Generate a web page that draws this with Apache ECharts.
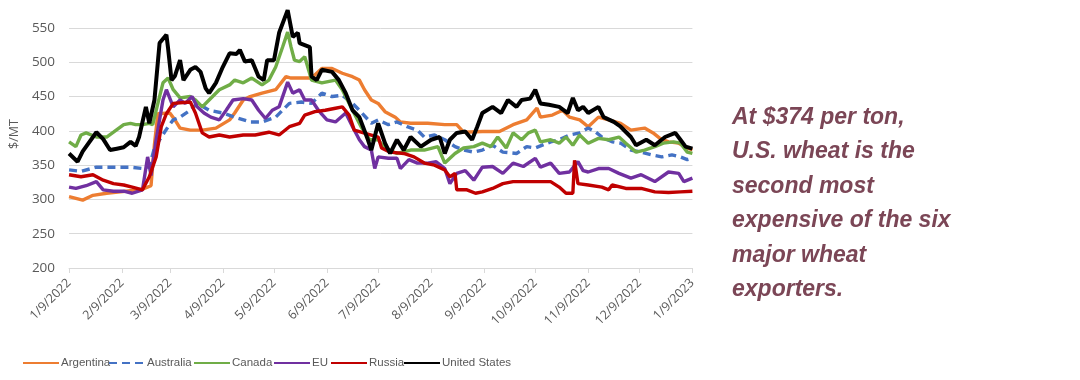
<!DOCTYPE html>
<html>
<head>
<meta charset="utf-8">
<script src="https://cdn.jsdelivr.net/npm/echarts@6/dist/echarts.min.js"></script>
<style>html,body{margin:0;padding:0;background:#fff}#c{width:1080px;height:380px}</style>
</head>
<body>
<div id="c"></div>
<script>
const seriesNames = ['Argentina','Australia','Canada','EU','Russia','United States'];
const yTicks = [200,250,300,350,400,450,500,550];

const argentina = [['1/9/2022',304],['1/17/2022',299],['1/23/2022',306],['1/31/2022',309],['2/8/2022',311],['2/15/2022',313],['2/21/2022',315],['2/26/2022',320],['2/28/2022',380],['3/2/2022',425],['3/9/2022',426],['3/12/2022',416],['3/15/2022',404],['3/21/2022',401],['3/28/2022',401],['4/5/2022',404],['4/13/2022',416],['4/16/2022',426],['4/21/2022',445],['4/25/2022',450],['5/2/2022',455],['5/10/2022',460],['5/16/2022',479],['5/19/2022',477],['5/31/2022',477],['6/6/2022',491],['6/12/2022',491],['6/18/2022',484],['6/24/2022',479],['6/28/2022',474],['7/1/2022',460],['7/5/2022',445],['7/9/2022',440],['7/13/2022',428],['7/19/2022',420],['7/22/2022',413],['7/28/2022',411],['8/7/2022',411],['8/17/2022',409],['8/24/2022',409],['8/28/2022',398],['9/8/2022',399],['9/18/2022',399],['9/26/2022',409],['10/4/2022',416],['10/10/2022',433],['10/12/2022',420],['10/19/2022',423],['10/25/2022',430],['10/29/2022',420],['11/4/2022',416],['11/9/2022',406],['11/15/2022',420],['11/21/2022',416],['11/28/2022',411],['12/4/2022',401],['12/12/2022',404],['12/17/2022',397],['12/21/2022',389],['12/26/2022',384],['1/1/2023',382],['1/6/2023',375],['1/9/2023',372]];

const australia = [['1/9/2022',343],['1/16/2022',341],['1/25/2022',347],['2/4/2022',347],['2/14/2022',347],['2/21/2022',345],['2/25/2022',348],['2/28/2022',375],['3/3/2022',387],['3/8/2022',406],['3/11/2022',416],['3/15/2022',420],['3/21/2022',430],['3/25/2022',440],['4/1/2022',430],['4/9/2022',426],['4/16/2022',420],['4/25/2022',413],['5/2/2022',413],['5/10/2022',420],['5/18/2022',440],['5/25/2022',442],['5/31/2022',440],['6/6/2022',455],['6/12/2022',450],['6/18/2022',452],['6/24/2022',440],['6/28/2022',430],['7/5/2022',411],['7/9/2022',416],['7/15/2022',409],['7/20/2022',413],['7/26/2022',406],['8/1/2022',401],['8/5/2022',391],['8/11/2022',394],['8/17/2022',387],['8/23/2022',377],['8/28/2022',372],['9/3/2022',369],['9/8/2022',372],['9/14/2022',379],['9/20/2022',369],['9/28/2022',367],['10/4/2022',377],['10/9/2022',375],['10/18/2022',384],['10/23/2022',387],['10/29/2022',394],['11/4/2022',397],['11/9/2022',404],['11/13/2022',399],['11/17/2022',391],['11/23/2022',384],['11/28/2022',382],['12/4/2022',372],['12/10/2022',369],['12/16/2022',365],['12/22/2022',362],['12/28/2022',365],['1/2/2023',362],['1/6/2023',358],['1/9/2023',360]];

const canada = [['1/9/2022',384],['1/13/2022',377],['1/16/2022',394],['1/19/2022',397],['1/25/2022',391],['1/31/2022',391],['2/4/2022',398],['2/10/2022',409],['2/14/2022',411],['2/17/2022',409],['2/21/2022',409],['2/25/2022',411],['2/27/2022',409],['3/2/2022',440],['3/5/2022',470],['3/8/2022',477],['3/11/2022',460],['3/15/2022',448],['3/21/2022',450],['3/24/2022',445],['3/28/2022',435],['4/1/2022',445],['4/7/2022',460],['4/13/2022',467],['4/16/2022',474],['4/21/2022',470],['4/26/2022',477],['5/2/2022',467],['5/6/2022',474],['5/10/2022',493],['5/14/2022',522],['5/17/2022',544],['5/19/2022',522],['5/21/2022',503],['5/24/2022',501],['5/27/2022',508],['5/31/2022',474],['6/6/2022',470],['6/14/2022',474],['6/18/2022',460],['6/24/2022',430],['6/29/2022',406],['7/4/2022',387],['7/9/2022',387],['7/13/2022',375],['7/20/2022',367],['7/28/2022',372],['8/5/2022',372],['8/13/2022',377],['8/17/2022',353],['8/23/2022',367],['8/28/2022',375],['9/3/2022',377],['9/8/2022',382],['9/13/2022',377],['9/17/2022',391],['9/22/2022',375],['9/26/2022',397],['10/1/2022',387],['10/5/2022',397],['10/9/2022',401],['10/12/2022',384],['10/18/2022',387],['10/23/2022',382],['10/27/2022',391],['10/31/2022',379],['11/4/2022',394],['11/9/2022',382],['11/15/2022',389],['11/21/2022',387],['11/27/2022',391],['12/1/2022',382],['12/7/2022',369],['12/12/2022',372],['12/18/2022',377],['12/23/2022',382],['12/29/2022',384],['1/2/2023',382],['1/6/2023',369],['1/9/2023',367]];

const eu = [['1/9/2022',318],['1/13/2022',316],['1/19/2022',320],['1/25/2022',326],['1/29/2022',314],['2/4/2022',312],['2/10/2022',312],['2/15/2022',309],['2/21/2022',314],['2/24/2022',362],['2/26/2022',335],['3/1/2022',387],['3/5/2022',445],['3/7/2022',460],['3/11/2022',435],['3/15/2022',445],['3/18/2022',440],['3/22/2022',450],['3/25/2022',435],['3/29/2022',426],['4/2/2022',420],['4/7/2022',416],['4/11/2022',430],['4/15/2022',445],['4/21/2022',447],['4/26/2022',445],['4/30/2022',430],['5/4/2022',418],['5/8/2022',430],['5/12/2022',435],['5/17/2022',471],['5/20/2022',455],['5/24/2022',460],['5/27/2022',445],['5/31/2022',445],['6/4/2022',430],['6/9/2022',416],['6/14/2022',413],['6/20/2022',426],['6/24/2022',406],['6/28/2022',387],['7/1/2022',377],['7/5/2022',372],['7/7/2022',345],['7/9/2022',362],['7/15/2022',360],['7/20/2022',360],['7/22/2022',345],['7/27/2022',358],['8/1/2022',353],['8/7/2022',353],['8/12/2022',355],['8/17/2022',345],['8/20/2022',323],['8/24/2022',338],['8/29/2022',342],['9/3/2022',328],['9/8/2022',347],['9/14/2022',348],['9/20/2022',338],['9/26/2022',353],['10/2/2022',348],['10/9/2022',360],['10/12/2022',347],['10/18/2022',353],['10/23/2022',338],['10/29/2022',340],['11/3/2022',355],['11/6/2022',342],['11/9/2022',340],['11/15/2022',345],['11/21/2022',345],['11/27/2022',338],['12/4/2022',331],['12/10/2022',336],['12/18/2022',326],['12/26/2022',340],['1/1/2023',338],['1/4/2023',326],['1/9/2023',331]];

const russia = [['1/9/2022',336],['1/16/2022',333],['1/23/2022',336],['1/29/2022',328],['2/4/2022',323],['2/10/2022',321],['2/15/2022',318],['2/21/2022',314],['2/25/2022',333],['3/1/2022',362],['3/4/2022',406],['3/7/2022',425],['3/11/2022',440],['3/21/2022',442],['3/24/2022',426],['3/28/2022',397],['4/1/2022',391],['4/7/2022',394],['4/13/2022',391],['4/21/2022',394],['4/28/2022',394],['5/6/2022',398],['5/12/2022',394],['5/18/2022',406],['5/24/2022',411],['5/27/2022',423],['6/2/2022',428],['6/8/2022',430],['6/14/2022',433],['6/18/2022',435],['6/22/2022',423],['6/25/2022',401],['6/29/2022',398],['7/9/2022',391],['7/11/2022',375],['7/16/2022',369],['7/24/2022',367],['7/30/2022',362],['8/5/2022',353],['8/11/2022',350],['8/17/2022',343],['8/20/2022',333],['8/23/2022',338],['8/24/2022',314],['8/30/2022',314],['9/4/2022',309],['9/8/2022',311],['9/14/2022',316],['9/20/2022',323],['9/26/2022',326],['10/8/2022',326],['10/18/2022',326],['10/23/2022',318],['10/27/2022',309],['10/31/2022',309],['11/1/2022',357],['11/3/2022',323],['11/9/2022',321],['11/17/2022',318],['11/21/2022',314],['11/23/2022',321],['12/1/2022',316],['12/10/2022',316],['12/18/2022',311],['12/26/2022',310],['1/2/2023',311],['1/9/2023',312]];

const unitedStates = [['1/9/2022',367],['1/14/2022',355],['1/17/2022',370],['1/25/2022',398],['1/29/2022',388],['2/2/2022',372],['2/6/2022',374],['2/10/2022',376],['2/14/2022',384],['2/17/2022',378],['2/19/2022',391],['2/23/2022',435],['2/25/2022',411],['2/28/2022',445],['3/3/2022',528],['3/7/2022',540],['3/8/2022',520],['3/10/2022',474],['3/12/2022',480],['3/15/2022',503],['3/17/2022',474],['3/21/2022',489],['3/24/2022',493],['3/27/2022',486],['3/30/2022',462],['4/1/2022',455],['4/5/2022',470],['4/9/2022',493],['4/13/2022',513],['4/17/2022',512],['4/19/2022',518],['4/22/2022',501],['4/26/2022',503],['4/30/2022',479],['5/3/2022',474],['5/5/2022',503],['5/9/2022',503],['5/12/2022',543],['5/17/2022',576],['5/20/2022',537],['5/23/2022',543],['5/24/2022',528],['5/30/2022',522],['5/31/2022',479],['6/3/2022',474],['6/6/2022',489],['6/12/2022',486],['6/16/2022',474],['6/20/2022',455],['6/24/2022',430],['6/28/2022',420],['7/3/2022',387],['7/5/2022',372],['7/9/2022',411],['7/13/2022',382],['7/16/2022',367],['7/20/2022',387],['7/24/2022',372],['7/28/2022',391],['8/3/2022',377],['8/9/2022',387],['8/14/2022',391],['8/17/2022',367],['8/20/2022',387],['8/24/2022',397],['8/29/2022',399],['9/2/2022',387],['9/5/2022',406],['9/8/2022',426],['9/14/2022',435],['9/19/2022',426],['9/23/2022',445],['9/28/2022',435],['10/1/2022',445],['10/6/2022',447],['10/9/2022',460],['10/12/2022',440],['10/17/2022',438],['10/23/2022',435],['10/28/2022',426],['10/31/2022',448],['11/3/2022',430],['11/6/2022',435],['11/9/2022',426],['11/15/2022',435],['11/18/2022',420],['11/24/2022',413],['11/28/2022',406],['12/4/2022',391],['12/7/2022',379],['12/13/2022',387],['12/18/2022',379],['12/24/2022',391],['12/30/2022',397],['1/2/2023',387],['1/5/2023',377],['1/9/2023',374]];

const noteLines = ['At $374 per ton,','U.S. wheat is the','second most','expensive of the six','major wheat','exporters.'];

// daily category axis from 1/9/2022 to 1/9/2023
const categories = [];
for (let d = new Date(2022,0,9); d <= new Date(2023,0,9); d.setDate(d.getDate()+1)) {
  categories.push((d.getMonth()+1)+'/'+d.getDate()+'/'+d.getFullYear());
}
const isTickDay = (i) => categories[i].split('/')[1] === '9';

const colors = ['#ED7D31','#4472C4','#70AD47','#7030A0','#C00000','#000000'];
const seriesData = [argentina, australia, canada, eu, russia, unitedStates];
const legendLeft = [17, 103, 188, 268, 325, 398];

const chart = echarts.init(document.getElementById('c'), null, {renderer:'canvas'});
chart.setOption({
  animation: false,
  backgroundColor: '#fff',
  grid: {left: 65.7, right: 387.6, top: 0, bottom: 112},
  xAxis: {
    type: 'category', data: categories, boundaryGap: false,
    axisLine: {lineStyle: {color: '#d9d9d9', width: 1}},
    axisTick: {show: true, interval: (i) => isTickDay(i), length: 5, lineStyle: {color: '#d9d9d9'}},
    axisLabel: {interval: (i) => isTickDay(i), rotate: 45, color: '#595959', fontSize: 12.5, fontFamily: 'Open Sans', margin: 13},
    splitLine: {show: false}
  },
  yAxis: {
    type: 'value', min: 200, max: 590.8, interval: 50,
    name: '$/MT', nameLocation: 'middle', nameGap: 46, nameRotate: 90,
    nameTextStyle: {color: '#595959', fontSize: 12.5, fontFamily: 'Open Sans'},
    axisLine: {show: false}, axisTick: {show: false},
    axisLabel: {color: '#595959', fontSize: 13.5, fontFamily: 'Open Sans', margin: 14, showMaxLabel: false,
      formatter: (v) => yTicks.includes(v) ? String(v) : ''},
    splitLine: {showMaxLine: false, lineStyle: {color: '#d9d9d9', width: 1}}
  },
  legend: seriesNames.map((name, k) => ({
    data: [name], left: legendLeft[k], top: 352, itemWidth: 36, itemHeight: 10, itemGap: 0,
    itemStyle: {opacity: 0},
    textStyle: {color: '#595959', fontSize: 11.5, fontFamily: 'Liberation Sans', padding: [0, 0, 0, -3]}
  })),
  series: seriesNames.map((name, k) => ({
    name, type: 'line', symbol: 'none', z: 2 + k,
    color: colors[k],
    lineStyle: {color: colors[k], width: k === 5 ? 4 : 3.4, type: k === 1 ? [8, 5] : 'solid'},
    data: seriesData[k].map(([d, v]) => [categories.indexOf(d), v])
  })),
  graphic: [{
    type: 'text', left: 732, top: 100,
    style: {text: noteLines.join('\n'), fill: '#7b4656', font: 'italic bold 23px "Liberation Sans"', lineHeight: 34.5}
  }]
});
</script>
</body>
</html>
